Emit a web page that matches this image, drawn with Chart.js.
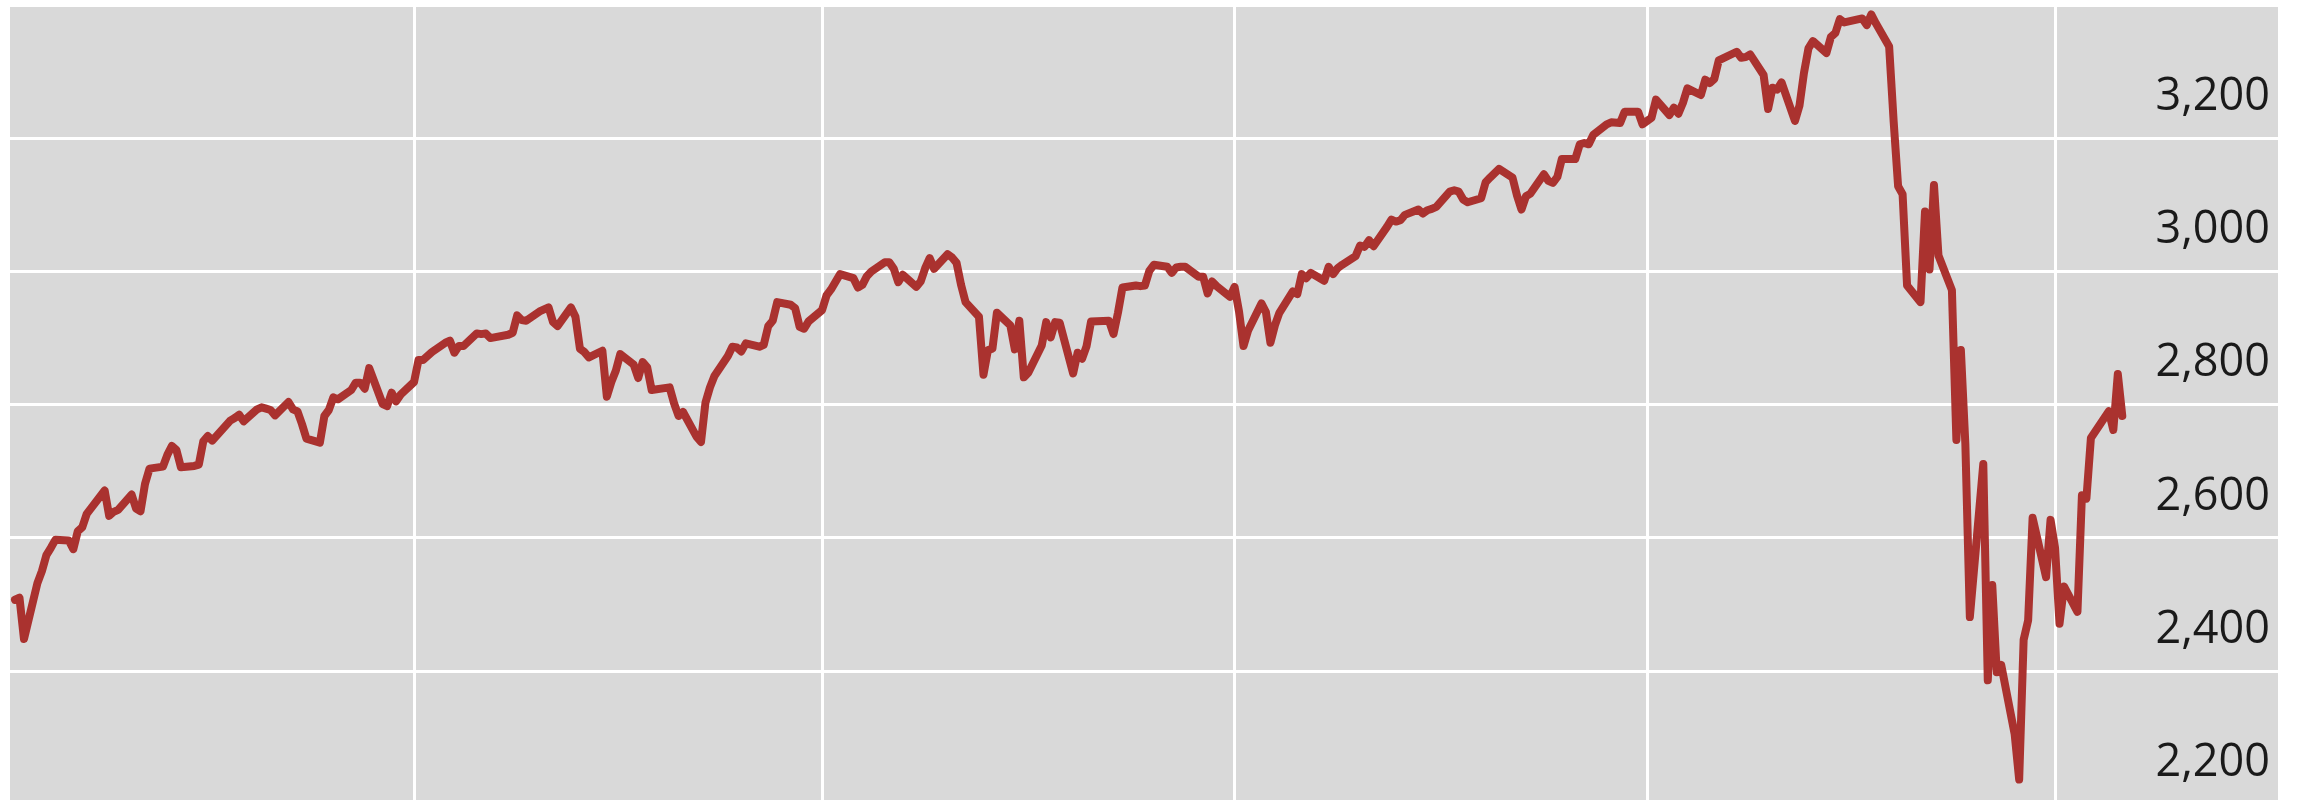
<!DOCTYPE html>
<html>
<head>
<meta charset="utf-8">
<script src="https://cdn.jsdelivr.net/npm/chart.js@4.4.1/dist/chart.umd.min.js"></script>
<style>
  html, body { margin: 0; padding: 0; background: #ffffff; overflow: hidden; }
  #wrap { width: 2297px; height: 800px; }
</style>
</head>
<body>
<div id="wrap"><canvas id="spChart" width="2297" height="800"></canvas></div>
<script>
// Ngày giao dịch: từ 2019-01-02 đến 2020-04-16, bỏ cuối tuần và ngày nghỉ lễ
const firstDate = '2019-01-02';
const lastDate = '2020-04-16';
const holidays = [
    '2019-01-21', '2019-02-18', '2019-04-19', '2019-05-27', '2019-07-04', '2019-09-02',
    '2019-11-28', '2019-12-25', '2020-01-01', '2020-01-20', '2020-02-17', '2020-04-10'
];

// Giá trị (mỗi điểm một ngày giao dịch)
const values = [
    2507,
    // 2019-01
    2510, 2448, 2532, 2550, 2574, 2585, 2597, 2596, 2583, 2610, 2616, 2636, 2671, 2633, 2639, 2642, 2665, 2644, 2640, 2681, 2704,
    // 2019-02
    2707, 2725, 2738, 2732, 2706, 2708, 2710, 2745, 2753, 2746, 2776, 2780, 2785, 2775, 2793, 2796, 2794, 2792, 2784,
    // 2019-03
    2804, 2793, 2790, 2771, 2749, 2743, 2783, 2792, 2811, 2808, 2822, 2833, 2833, 2824, 2855, 2801, 2798, 2818, 2805, 2815, 2834,
    // 2019-04
    2867, 2867, 2873, 2879, 2893, 2896, 2878, 2888, 2888, 2907, 2906, 2907, 2900, 2905, 2908, 2934, 2927, 2926, 2940, 2943, 2946,
    // 2019-05
    2924, 2918, 2946, 2932, 2884, 2879, 2871, 2881, 2812, 2834, 2851, 2876, 2860, 2840, 2864, 2856, 2822, 2826, 2802, 2783, 2789, 2752,
    // 2019-06
    2744, 2803, 2826, 2843, 2873, 2887, 2886, 2880, 2892, 2887, 2890, 2918, 2926, 2954, 2950, 2945, 2917, 2914, 2925, 2942,
    // 2019-07
    2964, 2973, 2996, 2990, 2976, 2980, 2993, 3000, 3014, 3014, 3004, 2984, 2995, 2977, 2985, 3005, 3020, 3004, 3026, 3021, 3013, 2980,
    // 2019-08
    2954, 2932, 2845, 2882, 2884, 2938, 2919, 2883, 2926, 2841, 2848, 2889, 2924, 2901, 2924, 2923, 2847, 2878, 2869, 2888, 2925, 2926,
    // 2019-09
    2906, 2938, 2976, 2979, 2978, 2979, 3001, 3010, 3007, 2998, 3006, 3007, 3007, 2992, 2992, 2967, 2985, 2978, 2962, 2977,
    // 2019-10
    2940, 2888, 2911, 2952, 2939, 2893, 2919, 2938, 2970, 2966, 2996, 2990, 2998, 2986, 3007, 2996, 3005, 3010, 3023, 3039, 3037, 3047, 3038,
    // 2019-11
    3067, 3078, 3075, 3077, 3085, 3093, 3087, 3092, 3094, 3097, 3120, 3122, 3120, 3108, 3104, 3110, 3134, 3141, 3154, 3141,
    // 2019-12
    3114, 3093, 3113, 3117, 3146, 3136, 3133, 3142, 3169, 3169, 3191, 3193, 3191, 3205, 3221, 3224, 3223, 3240, 3240, 3221, 3231,
    // 2020-01
    3258, 3235, 3246, 3237, 3253, 3275, 3265, 3288, 3283, 3289, 3317, 3330, 3321, 3322, 3326, 3295, 3244, 3276, 3273, 3284, 3226,
    // 2020-02
    3249, 3298, 3335, 3346, 3328, 3352, 3358, 3379, 3374, 3380, 3370, 3386, 3373, 3338, 3226, 3128, 3116, 2979, 2954,
    // 2020-03
    3090, 3003, 3130, 3024, 2972, 2747, 2882, 2741, 2481, 2711, 2386, 2529, 2398, 2409, 2305, 2237, 2447, 2476, 2630, 2541, 2627, 2585,
    // 2020-04
    2471, 2527, 2489, 2664, 2659, 2750, 2790, 2762, 2846, 2783
];

// Vạch lưới dọc (đầu mỗi quý) và nhãn trục tung
const quarterStarts = ['2019-04-01', '2019-07-01', '2019-10-01', '2020-01-01', '2020-04-01'];
const yTicks = [2200, 2400, 2600, 2800, 3000, 3200];

const DAY = 86400000;
const t0 = Date.parse(firstDate);

// Đổi ngày thành số ngày kể từ ngày đầu tiên
function dayIndex(s) {
    return (Date.parse(s) - t0) / DAY;
}

// Tạo danh sách ngày giao dịch
function buildTradingDays() {
    const out = [];
    const end = Date.parse(lastDate);
    for (let t = t0; t <= end; t += DAY) {
        const d = new Date(t);
        const wd = d.getUTCDay();
        const iso = d.toISOString().slice(0, 10);
        if (wd === 0 || wd === 6) continue;
        if (holidays.includes(iso)) continue;
        out.push(iso);
    }
    return out;
}

const dates = buildTradingDays();
const points = dates.map((d, i) => ({ x: dayIndex(d), y: values[i] }));

// Tô nền xám cho vùng biểu đồ
const plotBackground = {
    id: 'plotBackground',
    beforeDraw(chart) {
        const { ctx, chartArea } = chart;
        ctx.save();
        ctx.fillStyle = '#d9d9d9';
        ctx.fillRect(chartArea.left, chartArea.top, chartArea.right - chartArea.left, chartArea.bottom - chartArea.top);
        ctx.restore();
    }
};

new Chart(document.getElementById('spChart').getContext('2d'), {
    type: 'line',
    data: {
        datasets: [{
            data: points,
            borderColor: '#aa322f',
            borderWidth: 8,
            borderJoinStyle: 'round',
            borderCapStyle: 'round',
            pointRadius: 0,
            tension: 0,
            fill: false
        }]
    },
    options: {
        responsive: false,
        animation: false,
        devicePixelRatio: 1,
        layout: { padding: { left: 10, top: 7, right: 19, bottom: 0 } },
        plugins: {
            legend: { display: false },
            tooltip: { enabled: false }
        },
        scales: {
            x: {
                type: 'linear',
                min: -1.115,
                max: 504.73,
                border: { display: false },
                grid: { color: '#ffffff', lineWidth: 3, drawTicks: false },
                ticks: { display: false },
                afterBuildTicks: (axis) => {
                    axis.ticks = quarterStarts.map(q => ({ value: dayIndex(q) }));
                }
            },
            y: {
                type: 'linear',
                position: 'right',
                min: 2206.3,
                max: 3397.2,
                border: { display: false },
                grid: { color: '#ffffff', lineWidth: 3, drawTicks: false },
                ticks: {
                    mirror: true,
                    padding: -8,
                    labelOffset: -41,
                    autoSkip: false,
                    color: '#1a1a1a',
                    font: { family: 'Open Sans', size: 45 },
                    callback: (v) => v.toLocaleString('en-US')
                },
                afterBuildTicks: (axis) => {
                    axis.ticks = yTicks.map(v => ({ value: v }));
                },
                afterFit: (axis) => {
                    axis.width = 0;
                    axis.paddingTop = 0;
                    axis.paddingBottom = 0;
                }
            }
        }
    },
    plugins: [plotBackground]
});
</script>
</body>
</html>
